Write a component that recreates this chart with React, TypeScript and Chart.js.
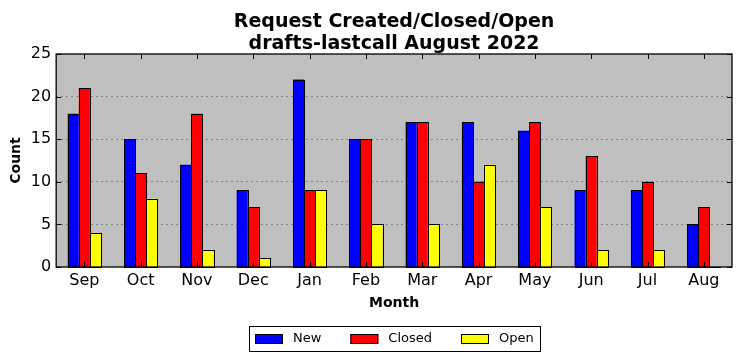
import React, { useEffect, useRef } from "react";
import { Chart, registerables } from "chart.js";

Chart.register(...registerables);

const months = ["Sep", "Oct", "Nov", "Dec", "Jan", "Feb", "Mar", "Apr", "May", "Jun", "Jul", "Aug"];
const newCounts = [18, 15, 12, 9, 22, 15, 17, 17, 16, 9, 9, 5];
const closedCounts = [21, 11, 18, 7, 9, 15, 17, 10, 17, 13, 10, 7];
const openCounts = [4, 8, 2, 1, 9, 5, 5, 12, 7, 2, 2, 0];
const yTicks = [0, 5, 10, 15, 20, 25];
const titleLines = ["Request Created/Closed/Open", "drafts-lastcall August 2022"];
const seriesNames = ["New", "Closed", "Open"];
const seriesColors = ["#0000ff", "#ff0000", "#ffff00"];

const FONT = "'DejaVu Sans', sans-serif";

const framePlugin = {
  id: "frame",
  beforeDraw(chart: any) {
    const { ctx, chartArea: a } = chart;
    ctx.save();
    ctx.fillStyle = "#bfbfbf";
    ctx.fillRect(a.left, a.top, a.right - a.left, a.bottom - a.top);
    ctx.restore();
  },
  afterDatasetsDraw(chart: any) {
    const { ctx, chartArea: a, scales } = chart;
    ctx.save();
    // crisp black outlines around each bar, taken from the bar elements
    ctx.strokeStyle = "#000";
    ctx.lineWidth = 1;
    chart.data.datasets.forEach((_: any, di: number) => {
      const meta = chart.getDatasetMeta(di);
      meta.data.forEach((el: any) => {
        const p = el.getProps(["x", "y", "base", "width"], true);
        const l = Math.round(p.x - p.width / 2);
        const r = Math.round(p.x + p.width / 2);
        const t = Math.round(p.y);
        const b = Math.round(p.base);
        ctx.strokeRect(l + 0.5, t + 0.5, r - l, b - t);
      });
    });
    ctx.beginPath();
    months.forEach((_, i) => {
      const x = Math.round(scales.x.getPixelForValue(i)) + 0.5;
      ctx.moveTo(x, a.top);
      ctx.lineTo(x, a.top + 5);
      ctx.moveTo(x, a.bottom);
      ctx.lineTo(x, a.bottom - 5);
    });
    yTicks.forEach((v) => {
      const y = Math.round(scales.y.getPixelForValue(v)) + 0.5;
      ctx.moveTo(a.left, y);
      ctx.lineTo(a.left + 5, y);
      ctx.moveTo(a.right, y);
      ctx.lineTo(a.right - 5, y);
    });
    ctx.stroke();
    ctx.lineWidth = 1.3;
    ctx.strokeRect(a.left, a.top, a.right - a.left, a.bottom - a.top);
    ctx.restore();
  },
  afterDraw(chart: any) {
    const { ctx, chartArea: a } = chart;
    const cx = (a.left + a.right) / 2;
    ctx.save();
    // title, centred over the plot area
    ctx.fillStyle = "#000";
    ctx.textAlign = "center";
    ctx.textBaseline = "alphabetic";
    ctx.font = `bold 19px ${FONT}`;
    ctx.fillText(titleLines[0], cx, a.top - 27);
    ctx.fillText(titleLines[1], cx, a.top - 5);

    // legend, boxed, centred under the plot area
    ctx.font = `13px ${FONT}`;
    const pad = 6, boxW = 28, boxH = 10, gapText = 10, gapItem = 29;
    const widths = seriesNames.map((n) => ctx.measureText(n).width);
    let total = pad * 2;
    widths.forEach((w, i) => {
      total += boxW + gapText + w + (i < widths.length - 1 ? gapItem : 0);
    });
    const left = Math.round(cx - total / 2);
    const top = Math.round(a.bottom + 59);
    const h = 25;
    ctx.strokeStyle = "#000";
    ctx.lineWidth = 1;
    ctx.strokeRect(left + 0.5, top + 0.5, Math.round(total), h);
    let x = left + pad;
    const midY = top + h / 2 + 0.5;
    seriesNames.forEach((n, i) => {
      ctx.fillStyle = seriesColors[i];
      ctx.fillRect(x, Math.round(midY - boxH / 2), boxW, boxH);
      ctx.strokeRect(x + 0.5, Math.round(midY - boxH / 2) + 0.5, boxW - 1, boxH - 1);
      ctx.fillStyle = "#000";
      ctx.textAlign = "left";
      ctx.textBaseline = "middle";
      ctx.fillText(n, x + boxW + gapText, midY);
      x += boxW + gapText + widths[i] + gapItem;
    });
    ctx.restore();
  },
};

export default function App() {
  const ref = useRef<HTMLCanvasElement | null>(null);

  useEffect(() => {
    document.body.style.margin = "0";
    const ds = (label: string, data: number[], color: string) => ({
      label,
      data,
      backgroundColor: color,
      borderWidth: 0,
    });
    const chart = new Chart(ref.current as HTMLCanvasElement, {
      type: "bar",
      data: {
        labels: months,
        datasets: [
          ds(seriesNames[0], newCounts, seriesColors[0]),
          ds(seriesNames[1], closedCounts, seriesColors[1]),
          ds(seriesNames[2], openCounts, seriesColors[2]),
        ],
      },
      options: {
        animation: false,
        responsive: false,
        maintainAspectRatio: false,
        datasets: { bar: { categoryPercentage: 0.59, barPercentage: 1.0 } },
        layout: { padding: { left: 8, right: 10, top: 54, bottom: 49 } },
        plugins: {
          title: { display: false },
          legend: { display: false },
          tooltip: { enabled: false },
        },
        scales: {
          x: {
            grid: { display: false, drawTicks: false },
            border: { display: false },
            ticks: { color: "#000", font: { family: FONT, size: 16 }, padding: 4 },
            title: {
              display: true,
              text: "Month",
              color: "#000",
              font: { family: FONT, size: 14, weight: "bold" },
              padding: { top: 1, bottom: 0 },
            },
          },
          y: {
            min: 0,
            max: 25,
            afterBuildTicks: (axis: any) => {
              axis.ticks = yTicks.map((v) => ({ value: v }));
            },
            grid: {
              color: "#808080",
              drawTicks: false,
              lineWidth: (c: any) => (c.tick && (c.tick.value === 0 || c.tick.value === 25) ? 0 : 1),
            },
            border: { display: false, dash: [2, 3] },
            ticks: { color: "#000", font: { family: FONT, size: 16 }, padding: 5 },
            title: {
              display: true,
              text: "Count",
              color: "#000",
              font: { family: FONT, size: 14, weight: "bold" },
              padding: { top: 0, bottom: 1 },
            },
          },
        },
      },
      plugins: [framePlugin],
    });
    return () => chart.destroy();
  }, []);

  return (
    <div style={{ width: 742, height: 361 }}>
      <canvas ref={ref} width={742} height={361} style={{ display: "block" }} />
    </div>
  );
}
